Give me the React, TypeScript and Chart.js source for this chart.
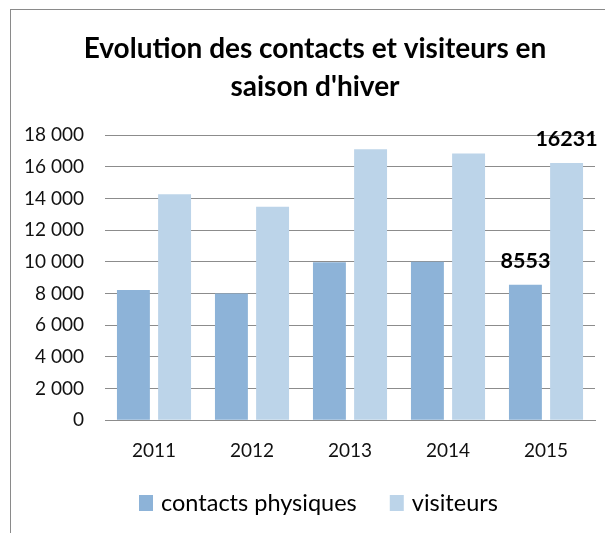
import React, { useEffect, useRef } from "react";
import { Chart, registerables } from "chart.js";

Chart.register(...registerables);

const years = ["2011", "2012", "2013", "2014", "2015"];
const contactsPhysiques = [8220, 8000, 9970, 10000, 8553];
const visiteurs = [14260, 13470, 17100, 16830, 16231];
const yTicks = [0, 2000, 4000, 6000, 8000, 10000, 12000, 14000, 16000, 18000];
const labeledIndex = 4;
const titleLines = ["Evolution des contacts et visiteurs en", "saison d'hiver"];
const seriesColors = ["#8DB3D8", "#BCD4E9"];

const FONT = "Lato, 'Open Sans', sans-serif";

const fmt = (v: number) => {
  const s = String(v);
  return s.length > 3 ? s.slice(0, s.length - 3) + " " + s.slice(-3) : s;
};

const valueLabels = {
  id: "valueLabels",
  afterDatasetsDraw(chart: any) {
    const ctx = chart.ctx;
    ctx.save();
    ctx.font = `bold 21.5px ${FONT}`;
    ctx.fillStyle = "#000";
    ctx.textAlign = "center";
    ctx.textBaseline = "alphabetic";
    chart.data.datasets.forEach((ds: any, di: number) => {
      const meta = chart.getDatasetMeta(di);
      const el = meta.data[labeledIndex];
      if (!el) return;
      ctx.fillText(String(ds.data[labeledIndex]), el.x, el.y - 17);
    });
    ctx.restore();
  },
};

const customLegend = {
  id: "customLegend",
  afterDraw(chart: any) {
    const ctx = chart.ctx;
    ctx.save();
    ctx.font = `23.5px ${FONT}`;
    ctx.textAlign = "left";
    ctx.textBaseline = "alphabetic";
    let x = 128;
    const baseline = 501;
    chart.data.datasets.forEach((ds: any) => {
      ctx.fillStyle = ds.backgroundColor;
      ctx.fillRect(x, baseline - 16, 14, 16);
      x += 14 + 8;
      ctx.fillStyle = "#000";
      ctx.fillText(ds.label, x, baseline);
      x += ctx.measureText(ds.label).width + 33;
    });
    ctx.restore();
  },
};

const titleShift = {
  id: "titleShift",
  afterLayout(chart: any) {
    if (chart.titleBlock) chart.titleBlock.left = 24;
  },
};

export default function App() {
  const ref = useRef<HTMLCanvasElement | null>(null);
  useEffect(() => {
    if (!ref.current) return;
    const chart = new Chart(ref.current, {
      type: "bar",
      data: {
        labels: years,
        datasets: [
          {
            label: "contacts physiques",
            data: contactsPhysiques,
            backgroundColor: seriesColors[0],
            categoryPercentage: 0.84,
            barPercentage: 0.8,
          },
          {
            label: "visiteurs",
            data: visiteurs,
            backgroundColor: seriesColors[1],
            categoryPercentage: 0.84,
            barPercentage: 0.8,
          },
        ],
      },
      options: {
        responsive: false,
        animation: false,
        devicePixelRatio: 1,
        layout: { padding: { left: 0, right: 18, top: 0, bottom: 52 } },
        plugins: {
          title: {
            display: true,
            text: titleLines,
            color: "#000",
            font: { family: FONT, size: 28, weight: "bold", lineHeight: 38 / 28 },
            padding: { top: 19.5, bottom: 29.5 },
          },
          legend: { display: false },
          tooltip: { enabled: false },
        },
        scales: {
          x: {
            grid: { display: false, drawTicks: false },
            border: { display: true, color: "#8c8c8c", width: 1 },
            ticks: {
              font: { family: FONT, size: 19 },
              color: "#111",
              padding: 19,
            },
          },
          y: {
            min: 0,
            max: 18000,
            afterFit(scale: any) {
              scale.width = 94;
            },
            afterBuildTicks(scale: any) {
              scale.ticks = yTicks.map((v) => ({ value: v }));
            },
            grid: { color: "#8c8c8c", drawTicks: false, tickLength: 0 },
            border: { display: false },
            ticks: {
              font: { family: FONT, size: 19 },
              color: "#111",
              padding: 21,
              callback: (v: any) => fmt(Number(v)),
            },
          },
        },
      },
      plugins: [valueLabels, customLegend, titleShift],
    });
    return () => chart.destroy();
  }, []);

  return (
    <div
      style={{
        marginLeft: 2,
        marginTop: 1,
        width: 603,
        height: 523,
        borderLeft: "1px solid #8a8a8a",
        borderTop: "1px solid #8a8a8a",
        background: "#fff",
      }}
    >
      <canvas ref={ref} width={602} height={523} style={{ display: "block" }} />
    </div>
  );
}
